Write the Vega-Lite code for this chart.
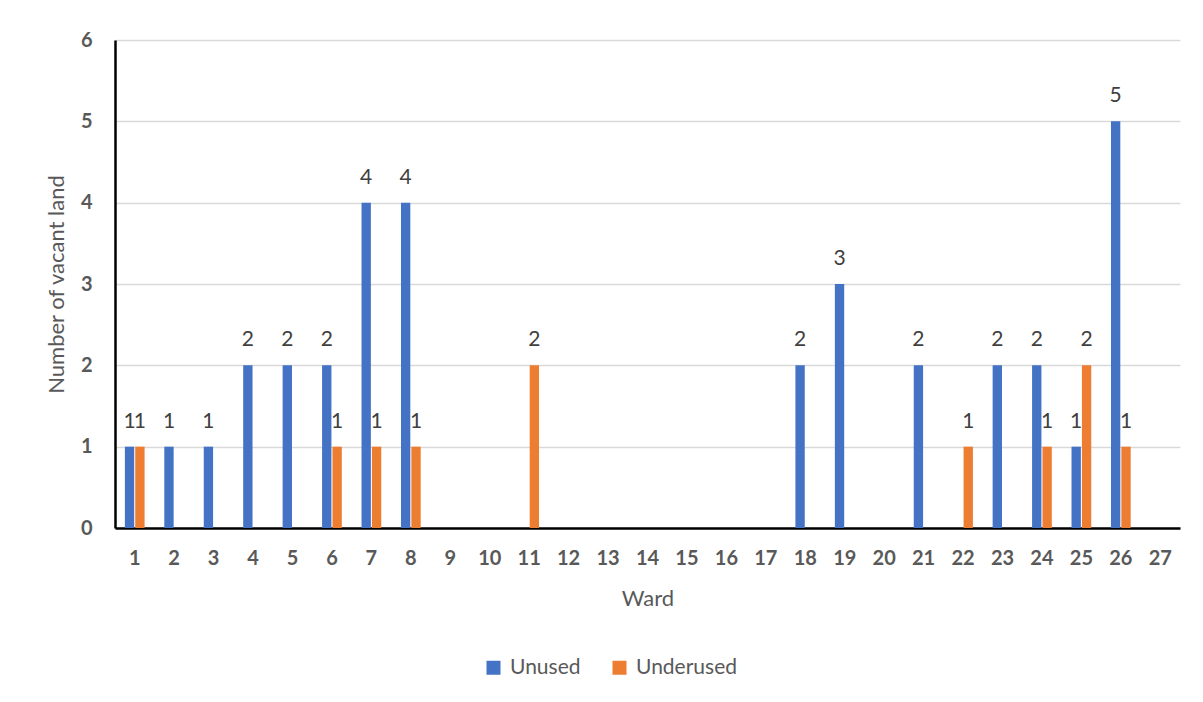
{
  "$schema": "https://vega.github.io/schema/vega-lite/v6.json",
  "autosize": "none",
  "width": 1065,
  "height": 488,
  "padding": {"left": 115, "top": 40, "right": 23, "bottom": 174},
  "background": "white",
  "config": {
    "font": "Lato",
    "view": {"stroke": null},
    "axis": {"ticks": false, "labelColor": "#595959", "titleColor": "#595959", "titleFontWeight": "normal"}
  },
  "data": {
    "values": [
      {"ward": 1, "type": "Unused", "count": 1},
      {"ward": 1, "type": "Underused", "count": 1},
      {"ward": 2, "type": "Unused", "count": 1},
      {"ward": 3, "type": "Unused", "count": 1},
      {"ward": 4, "type": "Unused", "count": 2},
      {"ward": 5, "type": "Unused", "count": 2},
      {"ward": 6, "type": "Unused", "count": 2},
      {"ward": 6, "type": "Underused", "count": 1},
      {"ward": 7, "type": "Unused", "count": 4},
      {"ward": 7, "type": "Underused", "count": 1},
      {"ward": 8, "type": "Unused", "count": 4},
      {"ward": 8, "type": "Underused", "count": 1},
      {"ward": 11, "type": "Underused", "count": 2},
      {"ward": 18, "type": "Unused", "count": 2},
      {"ward": 19, "type": "Unused", "count": 3},
      {"ward": 21, "type": "Unused", "count": 2},
      {"ward": 22, "type": "Underused", "count": 1},
      {"ward": 23, "type": "Unused", "count": 2},
      {"ward": 24, "type": "Unused", "count": 2},
      {"ward": 24, "type": "Underused", "count": 1},
      {"ward": 25, "type": "Unused", "count": 1},
      {"ward": 25, "type": "Underused", "count": 2},
      {"ward": 26, "type": "Unused", "count": 5},
      {"ward": 26, "type": "Underused", "count": 1}
    ]
  },
  "encoding": {
    "x": {
      "field": "ward",
      "type": "ordinal",
      "title": "Ward",
      "scale": {
        "domain": [1,2,3,4,5,6,7,8,9,10,11,12,13,14,15,16,17,18,19,20,21,22,23,24,25,26,27],
        "paddingInner": 0.5,
        "paddingOuter": 0.25
      },
      "axis": {
        "labelAngle": 0,
        "labelFontSize": 20,
        "labelFontWeight": "bold",
        "labelPadding": 20,
        "titleFontSize": 22,
        "titlePadding": 20,
        "domainColor": "#000000",
        "domainWidth": 2.5,
        "grid": false
      }
    },
    "xOffset": {
      "field": "type",
      "type": "nominal",
      "scale": {"domain": ["Unused", "Underused"], "paddingInner": 0.1}
    },
    "y": {
      "field": "count",
      "type": "quantitative",
      "title": "Number of vacant land",
      "scale": {"domain": [0, 6], "nice": false},
      "axis": {
        "values": [0, 1, 2, 3, 4, 5, 6],
        "labelFontSize": 20,
        "labelFontWeight": "bold",
        "labelPadding": 23,
        "titleFontSize": 22,
        "titlePadding": 12,
        "domainColor": "#000000",
        "domainWidth": 2.5,
        "gridColor": "#D9D9D9",
        "gridWidth": 1.5
      }
    }
  },
  "layer": [
    {
      "mark": {"type": "bar"},
      "encoding": {
        "color": {
          "field": "type",
          "type": "nominal",
          "title": null,
          "scale": {"domain": ["Unused", "Underused"], "range": ["#4472C4", "#ED7D31"]},
          "legend": {
            "orient": "none",
            "direction": "horizontal",
            "legendX": 368,
            "legendY": 617,
            "symbolType": "square",
            "symbolSize": 196,
            "symbolStrokeWidth": 0,
            "labelFontSize": 21,
            "labelColor": "#595959",
            "labelOffset": 6,
            "columnPadding": 28
          }
        }
      }
    },
    {
      "mark": {"type": "text", "baseline": "alphabetic", "dy": -19, "fontSize": 21, "color": "#404040"},
      "encoding": {"text": {"field": "count", "type": "quantitative"}}
    }
  ]
}
